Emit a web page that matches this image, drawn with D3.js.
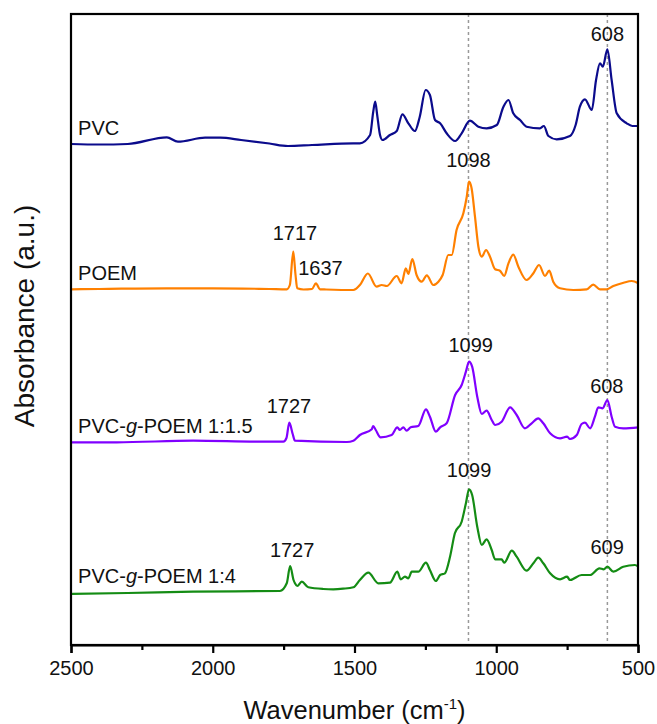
<!DOCTYPE html>
<html>
<head>
<meta charset="utf-8">
<script src="https://cdn.jsdelivr.net/npm/d3@7"></script>
<style>
  body { margin: 0; background: #fff; }
  text { font-family: Arial, "Liberation Sans", sans-serif; fill: #111; }
</style>
</head>
<body>
<div id="chart"></div>
<script>
// Spectra: [wavenumber (cm-1), absorbance (a.u., offset included)]
const pvc = [
  [2500, 501], [2400, 500.5], [2300, 501], [2162, 507.7], [2123, 503.3], [2027, 507.3],
  [1974, 507.3], [1900, 505], [1800, 501.5], [1735, 499], [1650, 500], [1505, 501.7],
  [1481, 501.7], [1445, 510], [1434, 533], [1427, 543.3], [1420, 530], [1410, 510],
  [1401, 505], [1375, 510], [1351, 514], [1331, 530.7], [1310, 521.7], [1287, 514],
  [1270, 528], [1249, 555], [1234, 550], [1216, 525], [1198, 521.7], [1175, 511.7],
  [1145, 504], [1122, 511.7], [1093, 524.3], [1063, 518.3], [1034, 516.7], [998, 520],
  [975, 538], [957, 545], [940, 531.7], [916, 525], [893, 518.3], [846, 516.7],
  [832, 519], [816, 509], [787, 505.7], [740, 509], [720, 520], [705, 538.3],
  [687, 545.7], [663, 535], [648, 565], [634, 581.7], [624, 578.3], [608, 595.7],
  [593, 565], [575, 531.7], [540, 521.7], [520, 519], [500, 519]
];

const poem = [
  [2500, 355.7], [2400, 356], [2162, 356.7], [2000, 356.7], [1800, 356], [1739, 355.7],
  [1728, 360], [1716, 393.3], [1708, 370], [1702, 356.7], [1680, 355.5], [1650, 356],
  [1636, 361.7], [1622, 355.7], [1600, 355.5], [1504, 355], [1481, 360], [1453, 371.5],
  [1422, 358.3], [1404, 360], [1386, 359], [1351, 369], [1334, 361.7], [1319, 376.7],
  [1310, 371], [1296, 386], [1281, 370], [1263, 363.3], [1245, 369.7], [1222, 360],
  [1204, 363.3], [1189, 370], [1169, 390], [1157, 390], [1140, 415], [1116, 431.7],
  [1104, 448.3], [1096, 463.3], [1087, 456.7], [1075, 428.3], [1063, 398.3], [1051, 388.3],
  [1036, 395], [1022, 388.3], [1004, 375.7], [987, 374.3], [972, 369], [957, 381.7],
  [940, 390.3], [922, 378.3], [893, 365], [869, 371.7], [849, 380], [828, 369],
  [813, 374.3], [799, 363.3], [775, 356.7], [728, 355], [681, 355.7], [658, 360.3],
  [634, 355.7], [610, 355.7], [587, 359], [551, 362.3], [522, 364], [499, 361.7]
];

const graft15 = [
  [2500, 202.7], [2339, 202.7], [2069, 204.3], [1833, 203.3], [1751, 203.3], [1740, 207],
  [1730, 222.3], [1718, 211], [1710, 204.3], [1527, 203], [1504, 204.3], [1481, 210],
  [1439, 215.7], [1434, 219], [1425, 215], [1408, 207.7], [1369, 210], [1349, 217.7],
  [1340, 215], [1328, 217.7], [1316, 214.3], [1302, 217.7], [1275, 219], [1248, 235.7],
  [1234, 228.3], [1213, 213.3], [1198, 217.7], [1175, 221.7], [1145, 250], [1122, 260],
  [1107, 273.3], [1096, 283.3], [1085, 278.3], [1067, 248.3], [1051, 231], [1034, 234.3],
  [1016, 225], [1004, 220], [981, 223.3], [951, 237.7], [928, 230], [899, 216.7],
  [875, 221.7], [852, 226.7], [834, 221.7], [810, 211.7], [775, 206.7], [750, 208.3],
  [740, 206], [716, 210], [699, 221], [687, 222.3], [669, 216.7], [652, 228.3],
  [640, 237.7], [625, 236.7], [608, 245], [593, 228.3], [581, 218.3], [552, 216.7],
  [499, 217.7]
];

const graft4 = [
  [2500, 51], [2300, 52], [2069, 53.3], [1763, 54], [1739, 61.7], [1727, 79],
  [1715, 65], [1710, 61.7], [1702, 59], [1686, 63.3], [1663, 57.7], [1610, 56],
  [1575, 55.7], [1540, 56.3], [1504, 57.7], [1481, 65], [1451, 72.3], [1416, 61.7],
  [1375, 62.3], [1349, 73.3], [1337, 65.7], [1322, 68.3], [1310, 66.7], [1298, 73.3],
  [1275, 73.3], [1248, 82.3], [1234, 75], [1213, 64], [1198, 70], [1181, 71.7],
  [1163, 88.3], [1146, 111.7], [1122, 123.3], [1107, 141.7], [1096, 155.7], [1085, 150],
  [1067, 118.3], [1051, 100], [1034, 105.7], [1016, 95], [1004, 85.7], [981, 85.7],
  [972, 82.3], [945, 94.3], [928, 88.3], [893, 74.3], [869, 81.7], [852, 87.3],
  [834, 81.7], [810, 71.7], [775, 65.7], [750, 68.3], [740, 65], [699, 70],
  [669, 70], [636, 76.7], [621, 75.7], [608, 78.3], [587, 73.3], [552, 78.3],
  [511, 80], [499, 78.3]
];

const seriesData = [pvc, poem, graft15, graft4];
const seriesColors = ['#0b0b8c', '#ff8000', '#8000ff', '#148c14'];
const seriesNames = ['PVC', 'POEM', 'PVC-g-POEM 1:1.5', 'PVC-g-POEM 1:4'];
const nameLevels = [510, 365, 212, 62];

// peak annotations: [text, wavenumber, level]
const peakLabels = [
  ['608', 608, 604],
  ['1098', 1098, 478],
  ['1717', 1710, 405],
  ['1637', 1620, 370],
  ['1727', 1731, 232],
  ['1099', 1090, 293],
  ['608', 610, 252],
  ['1727', 1720, 88],
  ['1099', 1096, 168],
  ['609', 609, 91]
];

const refLines = [1098, 608];
const majorTicks = [2500, 2000, 1500, 1000, 500];
const minorTicks = [2250, 1750, 1250, 750];

const width = 657;
const height = 724;
const margin = { top: 14, right: 19, bottom: 79, left: 71 };

const svg = d3.select('#chart')
  .append('svg')
  .attr('width', width)
  .attr('height', height);

const x = d3.scaleLinear()
  .domain([2500, 500])
  .range([margin.left, width - margin.right]);

const y = d3.scaleLinear()
  .domain([0, 631])
  .range([height - margin.bottom, margin.top]);

// dotted reference lines
svg.selectAll('.ref')
  .data(refLines)
  .enter().append('line')
  .attr('class', 'ref')
  .attr('x1', d => x(d))
  .attr('x2', d => x(d))
  .attr('y1', margin.top)
  .attr('y2', height - margin.bottom)
  .attr('stroke', '#999')
  .attr('stroke-width', 1.5)
  .attr('stroke-dasharray', '3,3');

// spectra
const line = d3.line()
  .x(d => x(d[0]))
  .y(d => y(d[1]))
  .curve(d3.curveMonotoneX);

svg.selectAll('.spec')
  .data(seriesData)
  .enter().append('path')
  .attr('class', 'spec')
  .attr('d', d => line(d.slice().sort((a, b) => b[0] - a[0])))
  .attr('fill', 'none')
  .attr('stroke', (d, i) => seriesColors[i])
  .attr('stroke-width', 2.2)
  .attr('stroke-linejoin', 'round');

// series names
seriesNames.forEach((name, i) => {
  const t = svg.append('text')
    .attr('x', x(2475))
    .attr('y', y(nameLevels[i]))
    .style('font-size', '20px');
  if (name.includes('-g-')) {
    const parts = name.split('-g-');
    t.append('tspan').text(parts[0] + '-');
    t.append('tspan').style('font-style', 'italic').text('g');
    t.append('tspan').text('-' + parts[1]);
  } else {
    t.text(name);
  }
});

// peak labels
svg.selectAll('.peak')
  .data(peakLabels)
  .enter().append('text')
  .attr('class', 'peak')
  .attr('x', d => x(d[1]))
  .attr('y', d => y(d[2]))
  .attr('text-anchor', 'middle')
  .style('font-size', '20px')
  .text(d => d[0]);

// frame
svg.append('rect')
  .attr('x', margin.left)
  .attr('y', margin.top)
  .attr('width', width - margin.left - margin.right)
  .attr('height', height - margin.top - margin.bottom)
  .attr('fill', 'none')
  .attr('stroke', '#000')
  .attr('stroke-width', 2.2);

// bottom axis, major + minor ticks
const xAxis = svg.append('g')
  .attr('transform', `translate(0, ${height - margin.bottom})`)
  .call(d3.axisBottom(x).tickValues(majorTicks).tickSize(8).tickPadding(8).tickFormat(d3.format('d')));

xAxis.select('.domain').attr('stroke-width', 2.2);
xAxis.selectAll('.tick line').attr('stroke-width', 2.2);
xAxis.selectAll('.tick text')
  .style('font-size', '20px')
  .style('font-family', 'Arial, "Liberation Sans", sans-serif')
  .attr('fill', '#111');

const xMinor = svg.append('g')
  .attr('transform', `translate(0, ${height - margin.bottom})`)
  .call(d3.axisBottom(x).tickValues(minorTicks).tickSize(5).tickFormat(''));
xMinor.select('.domain').remove();
xMinor.selectAll('.tick line').attr('stroke-width', 2.2);

// axis titles
const xTitle = svg.append('text')
  .attr('x', (margin.left + width - margin.right) / 2)
  .attr('y', 719)
  .attr('text-anchor', 'middle')
  .style('font-size', '25.5px');
xTitle.append('tspan').text('Wavenumber (cm');
xTitle.append('tspan').attr('dy', -10).style('font-size', '15px').text('-1');
xTitle.append('tspan').attr('dy', 10).text(')');

svg.append('text')
  .attr('transform', 'translate(34, 316) rotate(-90)')
  .attr('text-anchor', 'middle')
  .style('font-size', '28px')
  .text('Absorbance (a.u.)');
</script>
</body>
</html>
